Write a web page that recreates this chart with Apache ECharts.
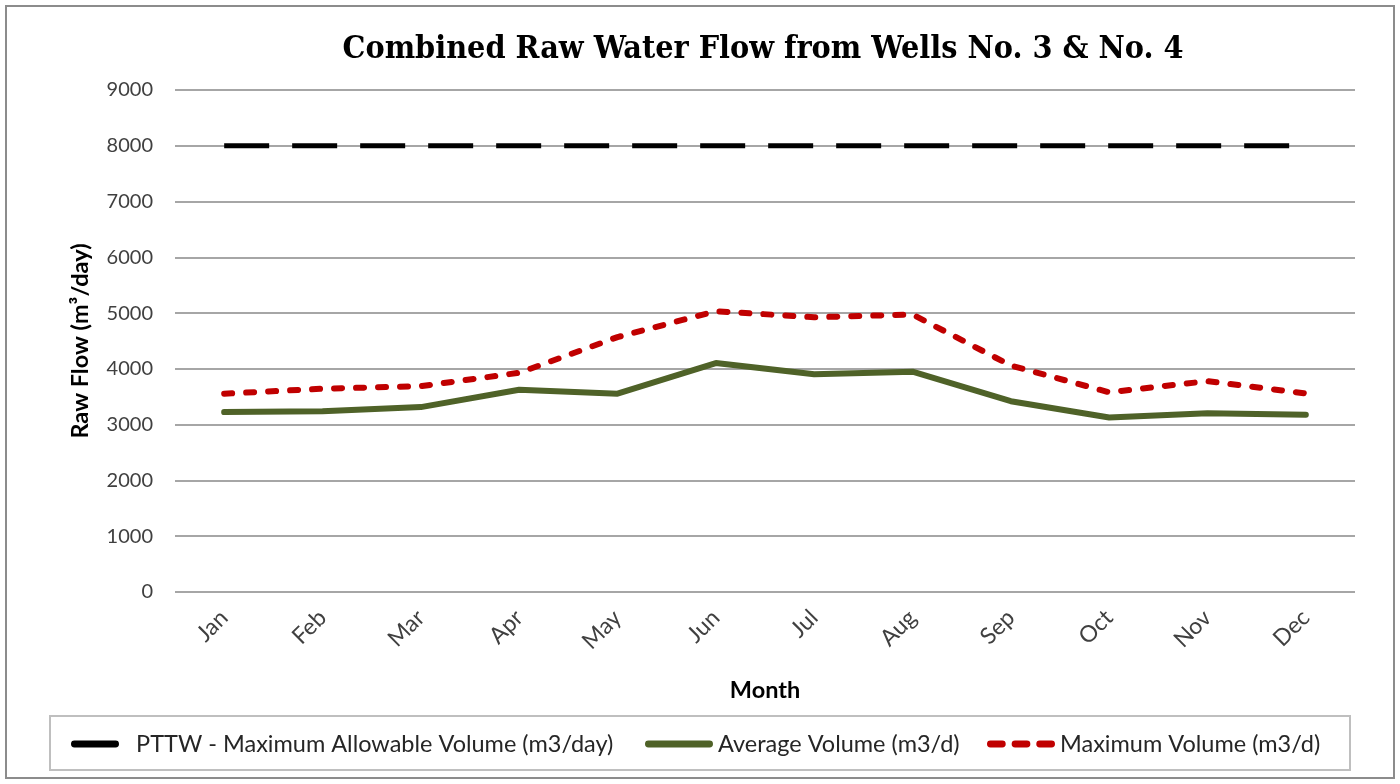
<!DOCTYPE html>
<html><head><meta charset="utf-8">
<script src="https://cdn.jsdelivr.net/npm/echarts@6/dist/echarts.min.js"></script>
<style>html,body{margin:0;padding:0;background:#fff}#c{width:1400px;height:784px}</style>
</head><body><div id="c"></div>
<script>
const months = ['Jan','Feb','Mar','Apr','May','Jun','Jul','Aug','Sep','Oct','Nov','Dec'];
const pttwLimit = [8000,8000,8000,8000,8000,8000,8000,8000,8000,8000,8000,8000];
const averageVolume = [3225,3240,3315,3625,3555,4105,3905,3950,3420,3130,3205,3180];
const maximumVolume = [3555,3645,3690,3930,4570,5035,4925,4975,4060,3580,3780,3560];
const yTicks = [0,1000,2000,3000,4000,5000,6000,7000,8000,9000];
const seriesNames = ['PTTW - Maximum Allowable Volume (m3/day)','Average Volume (m3/d)','Maximum Volume (m3/d)'];

const FONT = 'Lato';
const legText = {fontFamily: FONT, fontSize: 23.5, color: '#262626'};
const chart = echarts.init(document.getElementById('c'));
chart.setOption({
  animation: false,
  graphic: [
    {type:'rect', shape:{x:6,y:6,width:1388,height:772}, style:{fill:'none', stroke:'#8c8c8c', lineWidth:2}, silent:true},
    {type:'rect', shape:{x:50,y:716,width:1300,height:54}, style:{fill:'#fff', stroke:'#bfbfbf', lineWidth:2}, silent:true, z:-1}
  ],
  title: {
    text: 'Combined Raw Water Flow from Wells No. 3 & No. 4',
    left: 758, top: 29, textAlign: 'center',
    textStyle: {fontFamily: 'DejaVu Serif Condensed', fontWeight: 'bold', fontSize: 32, color: '#000'}
  },
  legend: [
    {left: 66, top: 727, itemWidth: 48, itemHeight: 7, itemGap: 0, textStyle: legText,
     data: [{name: seriesNames[0], icon: 'path://M3,0 L45,0 A3.5,3.5 0 0 1 45,7 L3,7 A3.5,3.5 0 0 1 3,0 Z', itemStyle: {color: '#000'}}],
     formatter: n => '  ' + n},
    {left: 640, top: 727, itemWidth: 68, itemHeight: 7, itemGap: 0, textStyle: legText,
     data: [{name: seriesNames[1], icon: 'path://M3,0 L65,0 A3.5,3.5 0 0 1 65,7 L3,7 A3.5,3.5 0 0 1 3,0 Z', itemStyle: {color: '#4f6228'}}]},
    {left: 982, top: 727, itemWidth: 68, itemHeight: 7, itemGap: 0, textStyle: legText,
     data: [{name: seriesNames[2], icon: 'path://M3,0 L15,0 A3.5,3.5 0 0 1 15,7 L3,7 A3.5,3.5 0 0 1 3,0 Z M28,0 L40,0 A3.5,3.5 0 0 1 40,7 L28,7 A3.5,3.5 0 0 1 28,0 Z M53,0 L65,0 A3.5,3.5 0 0 1 65,7 L53,7 A3.5,3.5 0 0 1 53,0 Z', itemStyle: {color: '#c00000'}}]}
  ],
  grid: {left: 175, right: 45, top: 90, bottom: 192},
  xAxis: {
    type: 'category', data: months, boundaryGap: true,
    name: 'Month', nameLocation: 'middle', nameGap: 86,
    nameTextStyle: {fontFamily: FONT, fontWeight: 'bold', fontSize: 23.5, color: '#000'},
    axisLine: {show: false}, axisTick: {show: false},
    axisLabel: {rotate: 45, margin: 22, fontFamily: FONT, fontSize: 23, color: '#404040'}
  },
  yAxis: {
    type: 'value', min: yTicks[0], max: yTicks[yTicks.length-1], interval: 1000,
    name: 'Raw Flow (m³/day)', nameLocation: 'middle', nameGap: 83, nameRotate: 90,
    nameTextStyle: {fontFamily: FONT, fontWeight: 'bold', fontSize: 23.5, color: '#000'},
    axisLine: {show: false}, axisTick: {show: false},
    axisLabel: {margin: 22, fontFamily: FONT, fontSize: 20, color: '#404040', formatter: v => String(v)},
    splitLine: {lineStyle: {color: '#a6a6a6', width: 2}}
  },
  series: [
    {name: seriesNames[0], type: 'line', data: pttwLimit, symbol: 'none',
     lineStyle: {color: '#000', width: 5, type: [45, 23]}, itemStyle: {color: '#000'}},
    {name: seriesNames[1], type: 'line', data: averageVolume, symbol: 'none',
     lineStyle: {color: '#4f6228', width: 6, cap: 'round'}, itemStyle: {color: '#4f6228'}},
    {name: seriesNames[2], type: 'line', data: maximumVolume, symbol: 'none',
     lineStyle: {color: '#c00000', width: 6, type: [8, 14], cap: 'round'}, itemStyle: {color: '#c00000'}}
  ]
});
</script></body></html>
